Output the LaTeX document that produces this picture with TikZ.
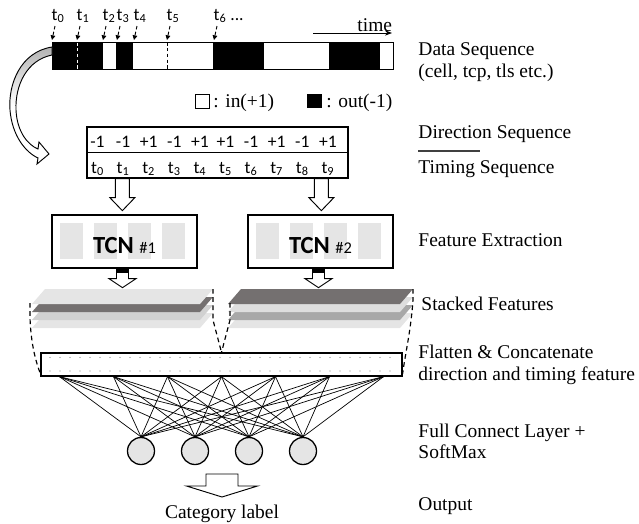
\documentclass[tikz,border=0pt]{standalone}
\usepackage{fontspec}
\setmainfont{Liberation Serif}
\newfontfamily\calib{Carlito}
\usetikzlibrary{arrows.meta}
\usetikzlibrary{calc}

\definecolor{cellgray}{gray}{0.9}
\definecolor{sheetlight}{gray}{0.9}
\definecolor{sheetpale}{gray}{0.87}
\definecolor{sheetmid}{gray}{0.82}
\definecolor{sheetgray}{gray}{0.66}
\definecolor{sheetdark}{RGB}{116,112,112}

\newcommand{\lblfont}{\fontsize{16.6}{19.6}\selectfont}
\newcommand{\seqfont}{\calib\fontsize{15}{17}\selectfont}

% hollow block arrow pointing down: start, half shaft, head overhang, shaft length, head length
\newcommand{\blockdown}[5]{%
  \draw[fill=white] (#1) ++(-#2,0) -- ++(0,#4) -- ++(-#3,0) -- ++(#2+#3,#5)
    -- ++(#2+#3,-#5) -- ++(-#3,0) -- ++(0,-#4) -- cycle;}

% one sheet of a feature stack: x, y, width, colour
\newcommand{\sheet}[4]{%
  \fill[#4] (#1,#2+15) -- ++(#3,0) -- ++(13,-15) -- ++(-#3,0) -- cycle;}

\begin{document}
\begin{tikzpicture}[x=0.03cm, y=-0.03cm, line width=0.8pt,
  tick/.style={densely dashed, -{Triangle[length=4pt,width=4pt]}},
  tlabel/.style={anchor=base, font=\seqfont, inner sep=0pt},
  lbl/.style={anchor=base west, font=\lblfont, inner sep=0pt},
  tcnbox/.style={draw, line width=1.1pt, fill=white, minimum width=4.35cm, minimum height=1.59cm},
  neuron/.style={circle, draw, line width=1.1pt, fill=cellgray, minimum size=0.81cm, inner sep=0pt},
  bracket/.style={dash pattern=on 4pt off 3pt, line width=1pt}]

\useasboundingbox (0,0) rectangle (639,523);

% data sequence
\fill (52,42) rectangle (103,69);
\fill (116,42) rectangle (133,69);
\fill (213,42) rectangle (264,69);
\fill (329,42) rectangle (380,69);
\draw[white, densely dashed] (77,42) -- (77,69);
\draw[densely dashed] (167,42) -- (167,69);
\node[draw, line width=1.1pt, minimum width=10.23cm, minimum height=0.81cm, anchor=north west] (data) at (52,42) {};

\foreach \x/\n in {52/0, 77/1, 103/2, 117/3, 134/4, 167/5, 214/6} {
  \draw[tick] (\x+3,26) -- (\x,40);
  \node[tlabel] (t\n) at (\x+6,20) {t\textsubscript{\n}};
}
\node[tlabel] (tdots) at (237,20) {...};

\draw[-{Stealth[length=6pt]}] (313,33) -- (392,33);
\node[lbl] (time) at (357,31) {time};

\draw (195,94) rectangle (209,108);
\fill (307,94) rectangle (322,108);
\node[lbl] (inlbl) at (213,107) {: in(+1)};
\node[lbl] (outlbl) at (326,107) {: out(-1)};

% curved arrow down to the sequences
\draw[top color=gray!60, bottom color=white, middle color=white]
  (52,47) .. controls (20,52) and (8,85) .. (10,110)
  .. controls (12,135) and (25,152) .. (38,158) -- (37,164) -- (49,154) -- (39,142) -- (38,149)
  .. controls (28,145) and (17,132) .. (16,110)
  .. controls (15,85) and (27,60) .. (52,55) -- cycle;

% direction / timing sequence
\node[draw, line width=1.1pt, minimum width=7.83cm, minimum height=1.53cm] (seq) at (217.5,152.5) {};
\draw[line width=1.1pt] (seq.west) -- (seq.east);
\foreach \val [count=\k from 0] in {-1,-1,+1,-1,+1,+1,-1,+1,-1,+1} {
  \node[tlabel] (d\k) at (97.5+25.6*\k,147) {\val};
  \node[tlabel] (s\k) at (97.5+25.6*\k,173) {t\textsubscript{\k}};
}

\blockdown{$(seq.south west)+(36,0)$}{7}{5.5}{19}{13}
\blockdown{$(seq.south west)+(235,0)$}{7}{5.5}{19}{13}

% TCN blocks
\node[tcnbox] (tcnA) at (124.5,241.5) {};
\node[tcnbox] (tcnB) at (320.5,241.5) {};
\foreach \bx in {tcnA,tcnB}
  \foreach \k in {0,...,3}
    \fill[cellgray] ($(\bx.north west)+(9+34*\k,9)$) rectangle ++(23,36);
\node[anchor=base, inner sep=0pt] (tcnAtxt) at (124.5,253) {\calib\fontsize{21}{24}\selectfont\textbf{TCN} \fontsize{14}{16}\selectfont\#1};
\node[anchor=base, inner sep=0pt] (tcnBtxt) at (320.5,253) {\calib\fontsize{21}{24}\selectfont\textbf{TCN} \fontsize{14}{16}\selectfont\#2};

\foreach \bx in {tcnA,tcnB} {
  \blockdown{$(\bx.south)+(-2,0)$}{6}{7.5}{10}{9}
  \fill ($(\bx.south)+(-8.5,0)$) rectangle ++(13,4);
}

% stacked features
\sheet{32}{313}{168}{sheetlight}
\sheet{32}{305}{168}{sheetmid}
\sheet{32}{297}{168}{sheetdark}
\sheet{32}{289}{168}{sheetlight}

\sheet{228}{313}{172}{sheetlight}
\sheet{228}{305}{172}{sheetgray}
\sheet{228}{297}{172}{sheetpale}
\sheet{228}{289}{172}{sheetdark}

% flatten layer
\node[draw, line width=1.1pt, minimum width=10.83cm, minimum height=0.69cm, inner sep=0pt] (flat) at (221.5,364.5) {};
\foreach \x in {0,...,34} {
  \fill[gray] (50+10*\x,357.5) circle[radius=0.5pt];
  \fill[gray] (50+10*\x,371) circle[radius=0.5pt];
}

\draw[bracket] (30,303) -- (30,318) .. controls (31,345) and (36,362) .. ($(flat.south west)+(0,-3)$);
\draw[bracket] (213,289) -- (213,320) -- (flat.north);
\draw[bracket] (230,303) -- (230,320) -- (flat.north);
\draw[bracket] (413,289) -- (413,300) .. controls (411,330) and (405,355) .. ($(flat.south east)+(0,-3)$);

% full connect layer
\foreach \j in {1,...,4}
  \node[neuron] (n\j) at (87+54*\j,451) {};
\foreach \i in {1,...,7}
  \coordinate (f\i) at ($(flat.south)+({54*(\i-4)},0)$);
\foreach \i in {1,...,7}
  \foreach \j in {1,...,4}
    \draw[line width=0.6pt] (f\i) -- (n\j.north);

% output
\coordinate (outtop) at (222,474);
\blockdown{outtop}{16}{19.5}{12}{11}
\node[lbl, anchor=base] (cat) at (222,518) {Category label};

% step names
\node[lbl] (lblData) at (418,55) {Data Sequence};
\node[lbl] (lblCell) at (418,77) {(cell, tcp, tls etc.)};
\node[lbl] (lblDir) at (418,138) {Direction Sequence};
\draw[line width=1.2pt, black!75] (lblDir.base west) ++(0,13) -- ++(62,0);
\node[lbl] (lblTime) at (418,173) {Timing Sequence};
\node[lbl] (lblFeat) at (418,246) {Feature Extraction};
\node[lbl] (lblStack) at (421,310) {Stacked Features};
\node[lbl] (lblFlat) at (418,358) {Flatten \& Concatenate};
\node[lbl] (lblFlat2) at (418,380) {direction and timing feature};
\node[lbl] (lblFc) at (418,437) {Full Connect Layer +};
\node[lbl] (lblSoft) at (418,458) {SoftMax};
\node[lbl] (lblOut) at (418,510) {Output};
\end{tikzpicture}
\end{document}
